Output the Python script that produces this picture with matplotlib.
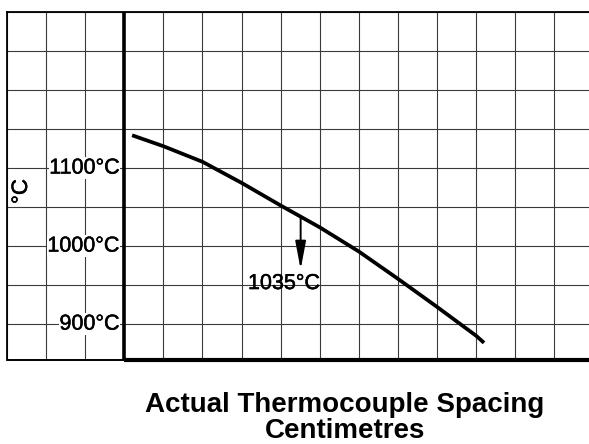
import numpy as np
import matplotlib
matplotlib.use("Agg")
import matplotlib.pyplot as plt
import matplotlib.patheffects as pe

plt.rcParams['font.family'] = ['Liberation Sans', 'DejaVu Sans']

# curve (x in grid cells, temperature in degC)
spacing = [0.2, 1, 2, 3, 4, 5, 6, 7, 8, 9, 9.2]
temps = [1142, 1128, 1108, 1081, 1052, 1024, 993, 958, 922, 885, 876]

temp_ticks = [900, 1000, 1100]
temp_labels = ['900°C', '1000°C', '1100°C']

marker_x = 4.51
marker_from, marker_to = 1037, 970
marker_label = '1035°C'

x_grid = np.arange(-3, 12, 1)
y_grid = np.arange(900, 1301, 50)
xlim = (-3, 11.885)
ylim = (854, 1300)

fig = plt.figure(figsize=(5.89, 4.44), dpi=100)
ax = fig.add_axes([7 / 589, 84 / 444, 582 / 589, 348 / 444])
ax.set_xlim(*xlim)
ax.set_ylim(*ylim)

for gx in x_grid:
    ax.axvline(gx, color='#3a3a3a', lw=0.8, zorder=1)
for gy in y_grid:
    ax.axhline(gy, color='#3a3a3a', lw=0.8, zorder=1)

# heavy axis lines
ax.axvline(0, color='black', lw=2.6, zorder=3)
ax.hlines(ylim[0], xlim[0], 0, color='black', lw=1.4, clip_on=False, zorder=3)
ax.hlines(ylim[0], 0, xlim[1], color='black', lw=3.0, clip_on=False, zorder=3)

ax.plot(spacing, temps, color='black', lw=2.7, solid_capstyle='butt',
        solid_joinstyle='round', zorder=4)

thick = [pe.withStroke(linewidth=0.35, foreground='black')]

ax.annotate('', xy=(marker_x, marker_to), xytext=(marker_x, marker_from),
            arrowprops=dict(arrowstyle='-|>,head_length=0.85,head_width=0.16',
                            mutation_scale=20, color='black', lw=1.4,
                            shrinkA=0, shrinkB=0),
            zorder=5)
ax.text(marker_x - 0.43, 952, marker_label, ha='center', va='center',
        fontsize=15.5, color='black', zorder=5, path_effects=thick)

for t, lab in zip(temp_ticks, temp_labels):
    ax.text(-0.12, t, lab, ha='right', va='center', fontsize=15.5,
            color='black', zorder=5, path_effects=thick,
            bbox=dict(facecolor='white', edgecolor='none', pad=0.5))

ax.text(-2.63, 1070, '°C', rotation=90, ha='center', va='center',
        fontsize=16, color='black', path_effects=thick)

ax.set_xticks([])
ax.set_yticks([])
for side in ['right', 'bottom']:
    ax.spines[side].set_visible(False)
for side in ['top', 'left']:
    ax.spines[side].set_linewidth(1.3)

fig.text(345 / 589, 1 - 418 / 444, 'Actual Thermocouple Spacing\nCentimetres',
         ha='center', va='center', fontsize=20, fontweight='bold',
         linespacing=1.03)

fig.savefig('out.png', dpi=100)
